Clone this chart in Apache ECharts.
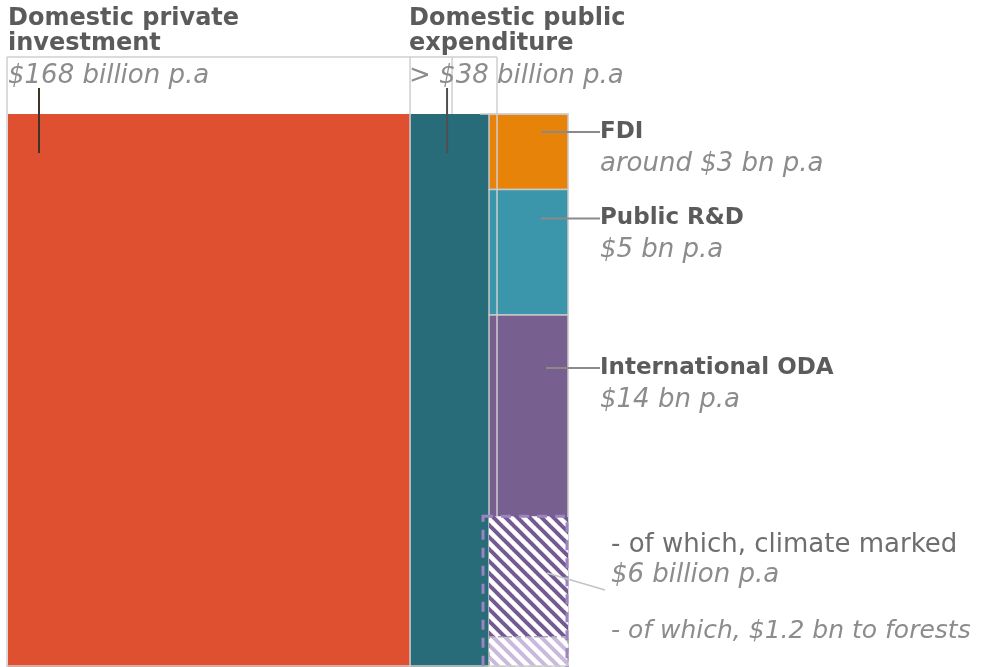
<!DOCTYPE html>
<html>
<head>
<meta charset="utf-8">
<script src="https://cdn.jsdelivr.net/npm/echarts@6/dist/echarts.min.js"></script>
<style>
  html, body { margin: 0; padding: 0; background: #fff; }
  #chart { width: 981px; height: 667px; }
</style>
</head>
<body>
<div id="chart"></div>
<script>
// flows, billion per year
const mainNames = ['Domestic private\ninvestment', 'Domestic public\nexpenditure'];
const mainLabels = ['$168 billion p.a', '> $38 billion p.a'];
const mainValues = [168, 38];

const sideNames = ['FDI', 'Public R&D', 'International ODA'];
const sideLabels = ['around $3 bn p.a', '$5 bn p.a', '$14 bn p.a'];
const sideValues = [3, 5, 14];

// parts of ODA
const odaPartNames = ['- of which, climate marked', '- of which, $1.2 bn to forests'];
const odaPartLabels = ['$6 billion p.a', ''];
const odaPartValues = [6, 1.2];

// layout
const colW = 33;          // width of the two narrow columns, in x units
const FONT = '"DejaVu Sans", sans-serif';
const BOLD_C = '#5b5b5b';
const ITAL_C = '#8c8c8c';
const FRAME_C = '#cfcfcf';

const sideTotal = sideValues.reduce((a, b) => a + b, 0);
const xMax = mainValues[0] + 2 * colW;

// diagonal stripes, top-left to bottom-right
function hatch(color, lw) {
  const p = 12;
  const c = document.createElement('canvas');
  c.width = p; c.height = p;
  const g = c.getContext('2d');
  g.fillStyle = '#fff';
  g.fillRect(0, 0, p, p);
  g.strokeStyle = color;
  g.lineWidth = lw;
  g.lineCap = 'square';
  for (let k = -2; k <= 2; k++) {
    g.beginPath();
    g.moveTo(k * p - p, -p);
    g.lineTo(k * p + 2 * p, 2 * p);
    g.stroke();
  }
  return { image: c, repeat: 'repeat' };
}

const styles = [
  { fill: '#df5030', stroke: null },
  { fill: '#286b79', stroke: null },
  { fill: '#e8830a', stroke: '#c8c8c8', lw: 1.5 },
  { fill: '#3b95ab', stroke: '#c8c8c8', lw: 1.5 },
  { fill: '#775f8f', stroke: '#c8c8c8', lw: 1.5 },
  { fill: hatch('#735a92', 4), stroke: null },
  { fill: hatch('#c9b9dc', 4), stroke: '#a8a8a8', lw: 1.5, dash: [5, 4] }
];

// rect rows: [x0, x1, y0, y1, styleIndex]
const rects = [];
rects.push([0, mainValues[0], 0, sideTotal, 0]);
rects.push([mainValues[0], mainValues[0] + colW, 0, sideTotal, 1]);
let acc = 0;
sideValues.forEach((v, i) => {
  rects.push([mainValues[0] + colW, xMax, acc, acc + v, 2 + i]);
  acc += v;
});
odaPartValues.forEach((v, i) => {
  rects.push([mainValues[0] + colW, xMax, sideTotal - v, sideTotal, 5 + i]);
});

const chart = echarts.init(document.getElementById('chart'));

function txt(x, y, text, size, bold, italic, color) {
  return {
    type: 'text',
    style: {
      x: x, y: y, text: text,
      font: (italic ? 'italic ' : '') + (bold ? 'bold ' : '') + size + 'px ' + FONT,
      fill: color, verticalAlign: 'middle', align: 'left', lineHeight: 25
    }
  };
}
function seg(x1, y1, x2, y2, color, w) {
  return { type: 'line', shape: { x1, y1, x2, y2 }, style: { stroke: color, lineWidth: w || 1.5 } };
}

const option = {
  animation: false,
  grid: { left: 8, top: 114, width: 560, height: 553 },
  xAxis: { type: 'value', min: 0, max: xMax, show: false },
  yAxis: { type: 'value', min: 0, max: sideTotal, inverse: true, show: false },
  series: [
    {
      type: 'custom',
      clip: false,
      data: rects,
      renderItem: (params, api) => {
        const p0 = api.coord([api.value(0), api.value(2)]);
        const p1 = api.coord([api.value(1), api.value(3)]);
        const s = styles[api.value(4)];
        return {
          type: 'rect',
          shape: { x: p0[0], y: p0[1], width: p1[0] - p0[0], height: p1[1] - p0[1] },
          style: { fill: s.fill, stroke: s.stroke, lineWidth: s.lw || 0, lineDash: s.dash || null }
        };
      }
    },
    {
      type: 'custom',
      clip: false,
      data: [0],
      renderItem: (params, api) => {
        const X0 = api.coord([0, 0])[0];
        const X1 = api.coord([mainValues[0], 0])[0];
        const X2 = api.coord([mainValues[0] + colW, 0])[0];
        const X3 = api.coord([xMax, 0])[0];
        const Yt = api.coord([0, 0])[1];
        const Yb = api.coord([0, sideTotal])[1];
        const yClimate = api.coord([0, sideTotal - odaPartValues[0]])[1];
        const yFrame = Yt - 57;
        const kids = [];

        // light frame lines
        kids.push(seg(X0 - 1, yFrame, X2 + 8, yFrame, FRAME_C));
        kids.push(seg(X0 - 1, yFrame, X0 - 1, Yb, FRAME_C));
        kids.push(seg(X1, yFrame, X1, Yb, FRAME_C));
        kids.push(seg(X1 + 42, yFrame, X1 + 42, Yt, FRAME_C));
        kids.push(seg(X2 + 8, yFrame, X2 + 8, yClimate, FRAME_C));
        kids.push(seg(X2 - 9, Yt, X3, Yt, FRAME_C));
        kids.push(seg(X0 - 1, Yb - 1, X3, Yb - 1, FRAME_C));

        // dashed outline of climate share
        kids.push({
          type: 'rect',
          shape: { x: X2 - 6, y: yClimate, width: X3 - X2 + 5, height: Yb - yClimate + 2 },
          style: { fill: null, stroke: '#9c84c0', lineWidth: 3, lineDash: [10, 8] }
        });

        // main titles
        const mx = [X0, X1 - 1];
        const lead = [X0 + 31, X1 + 37];
        const leadC = ['#3d3326', '#4f4f4f'];
        mainNames.forEach((n, i) => {
          kids.push(txt(mx[i], Yt - 83, n, 24, true, false, BOLD_C));
          kids.push(txt(mx[i], Yt - 38, mainLabels[i], 26, false, true, ITAL_C));
          kids.push(seg(lead[i], Yt - 26, lead[i], Yt + 39, leadC[i], 2));
        });

        // side labels
        const dy = [18, 29, 53];
        let a = 0;
        sideNames.forEach((n, i) => {
          const y = api.coord([0, a])[1] + dy[i];
          a += sideValues[i];
          kids.push(seg(X3 - 27 + (i === 2 ? 5 : 0), y, X3 + 32, y, '#8a8a8a', 2));
          kids.push(txt(X3 + 32, y, n, 23, true, false, BOLD_C));
          kids.push(txt(X3 + 32, y + 32, sideLabels[i], 26, false, true, ITAL_C));
        });

        // ODA parts
        kids.push(txt(X3 + 43, Yb - 122, odaPartNames[0], 26, false, false, '#6e6e6e'));
        kids.push(txt(X3 + 43, Yb - 92, odaPartLabels[0], 26, false, true, ITAL_C));
        kids.push(txt(X3 + 43, Yb - 36, odaPartNames[1], 25, false, true, ITAL_C));
        kids.push(seg(X2 + 58, Yb - 94, X3 + 37, Yb - 77, '#c4c4c4', 1.5));

        return { type: 'group', children: kids };
      }
    }
  ]
};

chart.setOption(option);
</script>
</body>
</html>
